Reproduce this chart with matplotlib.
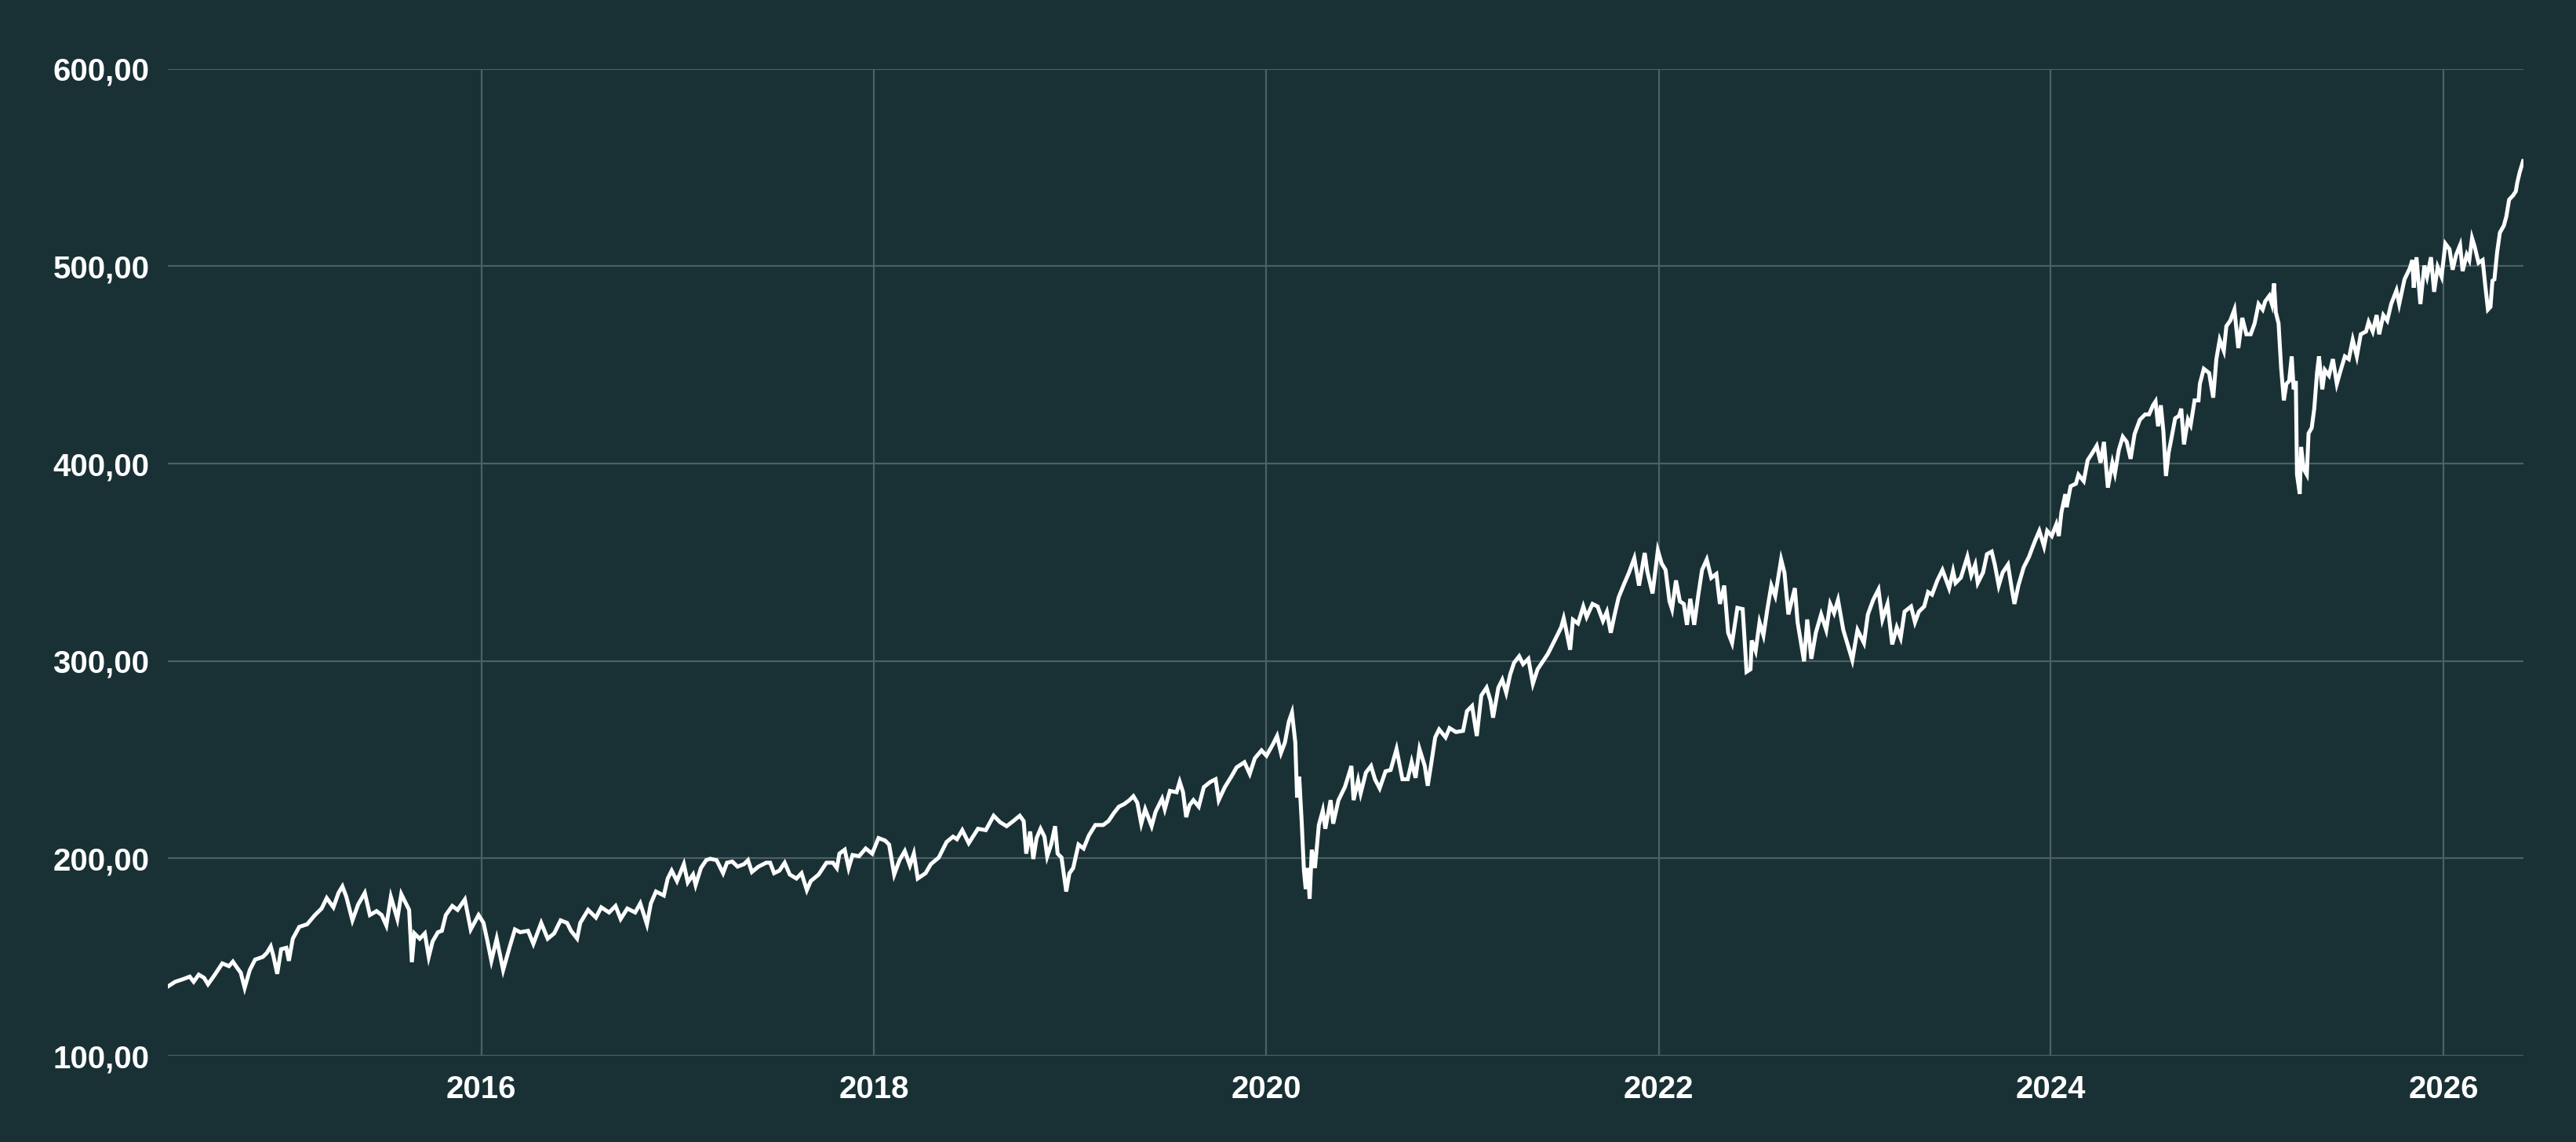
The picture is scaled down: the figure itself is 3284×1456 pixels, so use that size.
import datetime as dt
import matplotlib
matplotlib.use("Agg")
import matplotlib.pyplot as plt
import matplotlib.dates as mdates
from matplotlib.ticker import FuncFormatter, MultipleLocator

# time as decimal years
years_a = [2014.396, 2014.438, 2014.478, 2014.512, 2014.532, 2014.558, 2014.585, 2014.605, 2014.638,
           2014.678, 2014.712, 2014.732, 2014.752, 2014.772, 2014.792, 2014.818, 2014.845, 2014.885,
           2014.905, 2014.925, 2014.938, 2014.958, 2014.978, 2015.005, 2015.018, 2015.038, 2015.071,
           2015.111, 2015.151, 2015.185, 2015.211, 2015.245, 2015.271, 2015.291, 2015.311, 2015.342,
           2015.371, 2015.405, 2015.431, 2015.465, 2015.491, 2015.515, 2015.538, 2015.571, 2015.591,
           2015.611, 2015.631, 2015.645, 2015.658, 2015.685, 2015.711, 2015.731, 2015.751, 2015.778,
           2015.798, 2015.818, 2015.851, 2015.878, 2015.915, 2015.945, 2015.985, 2016.011, 2016.031,
           2016.051, 2016.078, 2016.111, 2016.145, 2016.171, 2016.198, 2016.238, 2016.265, 2016.305,
           2016.338]
values_a = [134.8, 137.5, 138.8, 140.1, 137.5, 141.1, 139.5, 136.2, 140.8,
            146.8, 145.4, 147.7, 144.8, 142.1, 134.4, 143.4, 148.7, 150.1,
            152.1, 155.4, 150.7, 141.5, 154.0, 154.7, 148.1, 159.3, 165.3,
            166.6, 171.3, 174.6, 179.9, 175.2, 182.5, 185.8, 180.5, 168.6,
            176.6, 182.5, 171.3, 173.3, 171.3, 166.0, 180.5, 169.3, 181.9,
            177.9, 173.9, 147.4, 162.0, 159.3, 162.0, 150.1, 158.0, 162.6,
            163.3, 171.3, 175.9, 173.9, 179.2, 164.0, 171.3, 167.3, 158.0,
            148.1, 159.3, 143.4, 155.4, 164.0, 162.6, 163.3, 156.7, 167.3,
            159.3]

years_b = [2016.371, 2016.404, 2016.437, 2016.457, 2016.488, 2016.504, 2016.544, 2016.584, 2016.611,
           2016.651, 2016.684, 2016.710, 2016.744, 2016.784, 2016.810, 2016.844, 2016.864, 2016.890,
           2016.930, 2016.950, 2016.970, 2016.997, 2017.030, 2017.050, 2017.077, 2017.090, 2017.117,
           2017.144, 2017.164, 2017.197, 2017.230, 2017.250, 2017.277, 2017.304, 2017.337, 2017.357,
           2017.377, 2017.410, 2017.450, 2017.470, 2017.490, 2017.517, 2017.544, 2017.570, 2017.604,
           2017.630, 2017.657, 2017.677, 2017.717, 2017.757, 2017.790, 2017.810, 2017.823, 2017.850,
           2017.870, 2017.890, 2017.923, 2017.957, 2017.990, 2018.023, 2018.057, 2018.077, 2018.103,
           2018.130, 2018.157, 2018.183, 2018.203, 2018.223, 2018.263, 2018.290, 2018.330]
values_b = [162.0, 168.6, 167.3, 163.3, 159.4, 167.3, 173.9, 170.0, 175.2,
            172.6, 175.9, 169.3, 174.6, 172.6, 177.2, 166.6, 177.2, 183.2,
            181.2, 189.8, 193.8, 188.5, 197.1, 187.8, 191.8, 186.5, 195.1,
            199.1, 199.8, 199.1, 192.5, 197.8, 198.4, 195.8, 197.1, 199.1,
            193.1, 195.8, 197.8, 197.8, 192.5, 193.8, 197.8, 191.8, 189.8,
            192.5, 183.9, 188.5, 191.8, 197.8, 197.8, 195.1, 202.4, 204.4,
            195.1, 201.7, 201.1, 205.0, 202.4, 210.3, 209.0, 207.0, 191.8,
            199.1, 203.7, 196.4, 202.4, 189.8, 192.5, 197.1, 200.4]

years_c = [2018.370, 2018.403, 2018.423, 2018.450, 2018.483, 2018.530, 2018.570, 2018.610, 2018.643,
           2018.676, 2018.710, 2018.743, 2018.763, 2018.776, 2018.796, 2018.812, 2018.829, 2018.849,
           2018.869, 2018.883, 2018.903, 2018.923, 2018.936, 2018.956, 2018.980, 2018.996, 2019.016,
           2019.043, 2019.069, 2019.096, 2019.129, 2019.169, 2019.196, 2019.223, 2019.249, 2019.276,
           2019.303, 2019.323, 2019.343, 2019.363, 2019.383, 2019.416, 2019.436, 2019.469, 2019.483,
           2019.509, 2019.543, 2019.559, 2019.576, 2019.592, 2019.609, 2019.629, 2019.656, 2019.682,
           2019.716, 2019.742, 2019.758, 2019.789, 2019.822, 2019.849, 2019.889, 2019.916, 2019.942,
           2019.976, 2020.002, 2020.036, 2020.056, 2020.076, 2020.096, 2020.116, 2020.132, 2020.149,
           2020.158, 2020.169, 2020.182, 2020.193, 2020.202, 2020.212, 2020.222, 2020.233, 2020.249,
           2020.269, 2020.289, 2020.302, 2020.329, 2020.342]
values_c = [208.3, 211.0, 209.7, 214.3, 207.7, 215.0, 214.3, 221.6, 218.3,
            216.3, 218.9, 221.6, 218.9, 202.4, 213.6, 199.7, 210.3, 215.0,
            211.0, 201.0, 207.0, 216.3, 202.4, 200.4, 183.2, 192.4, 195.1,
            207.0, 205.0, 211.6, 216.9, 216.9, 218.9, 222.9, 226.2, 227.5,
            229.5, 231.5, 228.2, 217.6, 224.9, 216.3, 223.6, 230.2, 224.9,
            234.2, 233.5, 238.8, 233.5, 220.9, 226.9, 229.5, 226.2, 236.1,
            238.8, 240.1, 229.5, 236.1, 241.4, 246.1, 248.7, 242.8, 250.7,
            254.7, 252.0, 258.0, 262.0, 253.4, 258.7, 269.3, 273.9, 258.7,
            230.8, 241.4, 217.6, 193.8, 184.5, 195.1, 179.5, 204.4, 195.1,
            216.9, 224.2, 215.0, 229.5, 217.6]

years_d = [2020.369, 2020.402, 2020.435, 2020.446, 2020.469, 2020.482, 2020.509, 2020.535, 2020.555,
           2020.579, 2020.609, 2020.635, 2020.665, 2020.682, 2020.695, 2020.722, 2020.742, 2020.762,
           2020.782, 2020.809, 2020.824, 2020.842, 2020.862, 2020.882, 2020.915, 2020.935, 2020.968,
           2021.002, 2021.022, 2021.048, 2021.072, 2021.095, 2021.122, 2021.142, 2021.155, 2021.182,
           2021.202, 2021.222, 2021.242, 2021.262, 2021.288, 2021.308, 2021.335, 2021.358, 2021.382,
           2021.408, 2021.435, 2021.462, 2021.482, 2021.502, 2021.515, 2021.528, 2021.548, 2021.562,
           2021.588, 2021.615, 2021.632, 2021.662, 2021.688, 2021.715, 2021.735, 2021.755, 2021.775,
           2021.795, 2021.822, 2021.848, 2021.875, 2021.899, 2021.928, 2021.941, 2021.968, 2021.995,
           2022.015, 2022.035, 2022.055, 2022.068, 2022.088, 2022.108, 2022.128, 2022.144, 2022.161,
           2022.181, 2022.201, 2022.221, 2022.245, 2022.268, 2022.294, 2022.312, 2022.334]
values_d = [229.5, 236.2, 246.8, 229.5, 239.5, 232.9, 243.5, 246.8, 240.1,
            235.5, 244.1, 244.8, 255.4, 246.8, 240.1, 240.1, 248.8, 240.8,
            255.4, 246.8, 236.8, 248.1, 261.3, 265.3, 261.3, 266.0, 264.0,
            264.6, 274.6, 277.2, 262.0, 282.5, 286.5, 279.9, 271.3, 286.5,
            290.5, 283.9, 293.1, 299.1, 302.4, 298.4, 301.1, 288.5, 295.8,
            299.7, 303.7, 309.0, 313.0, 317.0, 321.6, 315.6, 305.7, 320.9,
            319.0, 327.6, 322.3, 328.9, 327.6, 320.3, 324.9, 314.3, 323.6,
            332.2, 338.8, 344.8, 352.1, 338.2, 354.7, 345.4, 334.2, 356.0,
            349.4, 346.1, 330.2, 326.2, 340.8, 330.2, 328.9, 318.3, 331.5,
            318.3, 332.9, 346.1, 351.4, 342.1, 344.1, 328.9, 338.2]

years_e = [2022.354, 2022.374, 2022.401, 2022.428, 2022.448, 2022.468, 2022.474, 2022.494, 2022.514,
           2022.534, 2022.554, 2022.574, 2022.594, 2022.624, 2022.641, 2022.661, 2022.694, 2022.708,
           2022.741, 2022.757, 2022.778, 2022.801, 2022.828, 2022.854, 2022.874, 2022.894, 2022.914,
           2022.941, 2022.967, 2022.987, 2023.014, 2023.047, 2023.067, 2023.094, 2023.121, 2023.141,
           2023.167, 2023.191, 2023.214, 2023.234, 2023.254, 2023.287, 2023.307, 2023.327, 2023.354,
           2023.374, 2023.394, 2023.421, 2023.447, 2023.481, 2023.501, 2023.514, 2023.541, 2023.574,
           2023.594, 2023.614, 2023.627, 2023.654, 2023.674, 2023.698, 2023.714, 2023.734, 2023.754,
           2023.781, 2023.800, 2023.814, 2023.834]
values_e = [314.3, 309.1, 326.9, 326.3, 294.5, 295.8, 310.4, 305.1, 319.6,
            313.0, 326.3, 338.2, 332.9, 351.4, 344.8, 323.6, 336.9, 319.6,
            299.8, 321.0, 301.1, 314.3, 323.6, 315.7, 328.9, 324.3, 330.9,
            315.7, 307.1, 300.4, 315.7, 309.1, 323.6, 330.9, 336.2, 321.0,
            328.9, 308.4, 317.0, 311.7, 325.0, 327.6, 319.6, 325.0, 327.6,
            334.9, 333.6, 340.8, 346.1, 336.9, 345.5, 339.5, 342.2, 352.8,
            343.5, 348.8, 339.5, 344.8, 354.1, 355.4, 348.8, 338.2, 344.8,
            348.8, 336.9, 328.9, 338.2]

years_f = [2023.861, 2023.888, 2023.908, 2023.921, 2023.941, 2023.965, 2023.981, 2024.005, 2024.028,
           2024.041, 2024.054, 2024.074, 2024.081, 2024.101, 2024.128, 2024.141, 2024.168, 2024.188,
           2024.214, 2024.234, 2024.254, 2024.271, 2024.291, 2024.314, 2024.327, 2024.347, 2024.367,
           2024.387, 2024.407, 2024.427, 2024.454, 2024.481, 2024.501, 2024.521, 2024.534, 2024.547,
           2024.561, 2024.574, 2024.587, 2024.601, 2024.614, 2024.634, 2024.654]
values_f = [347.4, 352.7, 358.0, 361.3, 365.9, 358.0, 365.9, 363.3, 369.2,
            363.3, 375.2, 384.5, 377.9, 388.5, 389.8, 394.4, 391.1, 401.7,
            405.7, 409.0, 400.4, 411.0, 387.8, 400.4, 395.1, 407.0, 413.6,
            411.0, 402.4, 414.9, 422.2, 424.9, 424.9, 429.5, 431.5, 418.9,
            429.5, 416.3, 393.7, 405.7, 412.3, 422.9, 424.2]

years_g = [2024.665, 2024.679, 2024.699, 2024.713, 2024.733, 2024.753, 2024.760, 2024.780, 2024.807,
           2024.814, 2024.828, 2024.844, 2024.861, 2024.882, 2024.895, 2024.915, 2024.936, 2024.956,
           2024.976, 2024.997, 2025.017, 2025.037, 2025.057, 2025.078, 2025.091, 2025.112, 2025.125,
           2025.136, 2025.145, 2025.159, 2025.172, 2025.186, 2025.199, 2025.213, 2025.226, 2025.236,
           2025.247, 2025.253, 2025.267, 2025.274, 2025.287, 2025.303, 2025.312, 2025.328, 2025.341,
           2025.355, 2025.365, 2025.382, 2025.395, 2025.416, 2025.436, 2025.456, 2025.476, 2025.497,
           2025.517, 2025.537, 2025.558, 2025.578, 2025.605, 2025.618, 2025.639, 2025.659, 2025.672,
           2025.693, 2025.713, 2025.733, 2025.760, 2025.774, 2025.801, 2025.828, 2025.841, 2025.848,
           2025.862, 2025.882, 2025.902, 2025.916, 2025.936, 2025.952, 2025.970, 2025.990, 2026.010,
           2026.031, 2026.047, 2026.065, 2026.085, 2026.098, 2026.119, 2026.132, 2026.146, 2026.159,
           2026.179, 2026.200, 2026.213, 2026.227, 2026.240, 2026.250, 2026.260, 2026.274, 2026.288,
           2026.308, 2026.321, 2026.335, 2026.355, 2026.369, 2026.376, 2026.389, 2026.406]
values_g = [427.8, 409.7, 422.3, 419.5, 432.0, 432.0, 440.4, 448.0, 445.9,
            441.8, 433.4, 452.9, 462.7, 457.1, 469.6, 472.4, 478.0, 458.5,
            473.8, 465.5, 465.5, 471.0, 480.8, 478.0, 482.2, 485.0, 480.8,
            491.2, 476.6, 471.0, 448.7, 432.0, 440.4, 441.8, 454.3, 437.6,
            441.8, 394.4, 384.7, 408.4, 397.2, 394.4, 415.3, 418.1, 427.8,
            445.9, 454.3, 437.6, 447.4, 444.6, 452.9, 440.4, 447.4, 454.3,
            452.9, 462.7, 454.3, 465.5, 466.9, 471.7, 466.9, 475.2, 465.5,
            475.2, 472.4, 480.8, 487.7, 480.8, 493.3, 498.9, 503.1, 489.1,
            504.5, 480.8, 500.3, 494.7, 504.5, 487.0, 499.6, 494.7, 511.4,
            508.6, 498.2, 505.8, 510.7, 497.5, 505.8, 503.1, 514.2, 510.0,
            501.7, 503.1, 490.5, 478.0, 479.4, 492.6, 493.3, 507.2, 517.0,
            520.5, 525.3, 533.7, 535.8, 537.9, 542.1, 547.6, 553.2]

years = years_a + years_b + years_c + years_d + years_e + years_f + years_g
values = values_a + values_b + values_c + values_d + values_e + values_f + values_g


def to_date(y):
    base = dt.datetime(int(y), 1, 1)
    return base + dt.timedelta(days=(y - int(y)) * 365.25)


dates = [to_date(y) for y in years]

bg = "#193135"
grid_col = "#4b6164"

fig = plt.figure(figsize=(32.84, 14.56), dpi=100, facecolor=bg)
ax = fig.add_axes([0.0652, 0.0755, 0.9144, 0.8643], facecolor=bg)

ax.plot(dates, values, color="white", lw=3.6, solid_joinstyle="miter", zorder=3)

ax.set_ylim(100, 600)
ax.set_xlim(to_date(2014.401), to_date(2026.408))
ax.yaxis.set_major_locator(MultipleLocator(100))
ax.yaxis.set_major_formatter(FuncFormatter(lambda v, p: f"{v:.2f}".replace(".", ",")))
ax.xaxis.set_major_locator(mdates.YearLocator(2))
ax.xaxis.set_major_formatter(mdates.DateFormatter("%Y"))

ax.grid(True, color=grid_col, lw=1.6, zorder=1)
for s in ax.spines.values():
    s.set_visible(False)
ax.tick_params(length=0, labelcolor="white", labelsize=29)
ax.tick_params(axis="y", pad=17)
ax.tick_params(axis="x", pad=17)
for lab in ax.get_xticklabels() + ax.get_yticklabels():
    lab.set_fontfamily("Liberation Sans")
    lab.set_fontweight("bold")

fig.savefig("out.png", dpi=100, facecolor=bg)
